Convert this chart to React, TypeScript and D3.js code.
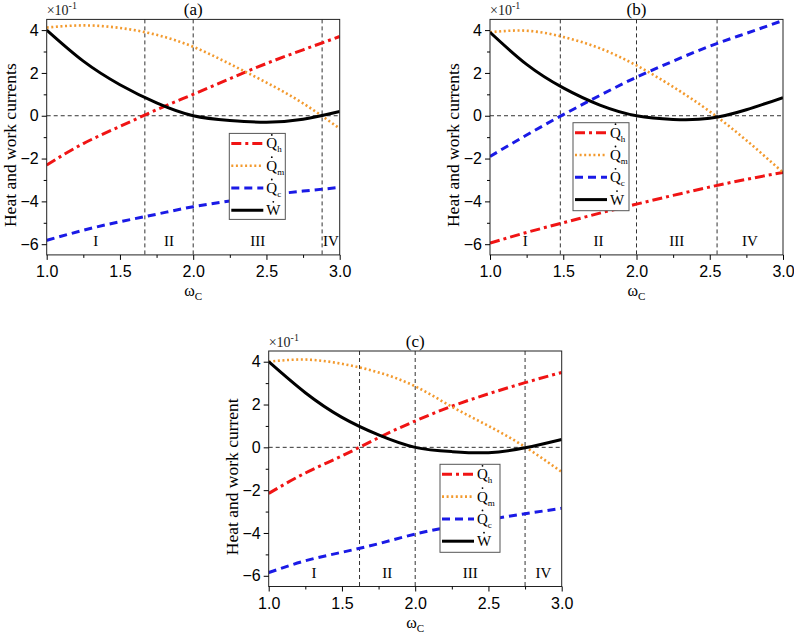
import { useEffect, useRef } from 'react';
import * as d3 from 'd3';

// shared x grid (omega_C)
const omegaC = [1.0, 1.25, 1.5, 1.75, 2.0, 2.25, 2.5, 2.75, 3.0];

// panel (a)
const qhA = [-2.3, -1.3, -0.5, 0.28, 1.0, 1.73, 2.44, 3.08, 3.7];
const qmA = [4.12, 4.22, 4.1, 3.78, 3.22, 2.42, 1.55, 0.58, -0.6];
const qcA = [-5.82, -5.35, -4.95, -4.6, -4.25, -3.98, -3.72, -3.52, -3.35];
const wA = [4.0, 2.55, 1.45, 0.6, 0.0, -0.22, -0.3, -0.16, 0.2];
const boundsA = [1.67, 2.0, 2.88];

// panel (b)
const qhB = [-5.95, -5.45, -5.0, -4.55, -4.13, -3.72, -3.33, -2.97, -2.65];
const qmB = [3.9, 3.97, 3.68, 3.15, 2.35, 1.35, 0.2, -1.15, -2.65];
const qcB = [-1.9, -0.9, 0.05, 0.95, 1.8, 2.55, 3.25, 3.85, 4.45];
const wB = [3.9, 2.4, 1.3, 0.5, 0.0, -0.17, -0.12, 0.28, 0.85];
const boundsB = [1.48, 2.0, 2.55];

// panel (c)
const qhC = [-2.15, -1.2, -0.4, 0.45, 1.23, 1.92, 2.5, 3.02, 3.5];
const qmC = [4.0, 4.1, 3.9, 3.5, 2.85, 1.9, 1.0, 0.02, -1.15];
const qcC = [-5.85, -5.3, -4.9, -4.5, -4.05, -3.7, -3.38, -3.1, -2.85];
const wC = [4.0, 2.55, 1.4, 0.58, 0.0, -0.2, -0.25, -0.02, 0.37];
const boundsC = [1.62, 2.0, 2.75];

const regionLabels = ['I', 'II', 'III', 'IV'];
const xTicks = [1.0, 1.5, 2.0, 2.5, 3.0];
const xMinor = [1.25, 1.75, 2.25, 2.75];
const yTicks = [-6, -4, -2, 0, 2, 4];
const yMinor = [-5, -3, -1, 1, 3];
const seriesSubs = ['h', 'm', 'c'];

const SERIF = '"Liberation Serif", "Times New Roman", serif';
const SANS = '"Liberation Sans", Arial, sans-serif';

const styles = [
  { color: '#f01414', dash: '10,4,3,4', width: 3 },
  { color: '#f39a2e', dash: '2,2.6', width: 2.6 },
  { color: '#1a1ae6', dash: '8,5', width: 3 },
  { color: '#000000', dash: null, width: 3 },
];

interface PanelCfg {
  left: number;
  top: number;
  title: string;
  ylabel: string;
  series: number[][];
  bounds: number[];
  legend: { x: number; y: number; w: number; h: number };
}

const W = 293;
const H = 235.5;

function drawPanel(svg: d3.Selection<SVGSVGElement, unknown, null, undefined>, cfg: PanelCfg, idx: number) {
  const g = svg.append('g').attr('transform', `translate(${cfg.left},${cfg.top})`);

  const x = d3.scaleLinear().domain([1, 3]).range([0, W]);
  const y = d3.scaleLinear().domain([-6.5, 4.5]).range([H, 0]);

  const clipId = `clip-${idx}`;
  g.append('clipPath').attr('id', clipId)
    .append('rect').attr('width', W).attr('height', H);

  // zero line and region dividers
  g.append('line')
    .attr('x1', 0).attr('x2', W).attr('y1', y(0)).attr('y2', y(0))
    .attr('stroke', '#333').attr('stroke-dasharray', '4,3').attr('stroke-width', 1);
  g.selectAll('.div').data(cfg.bounds).enter().append('line')
    .attr('x1', d => x(d)).attr('x2', d => x(d)).attr('y1', 0).attr('y2', H)
    .attr('stroke', '#333').attr('stroke-dasharray', '4,3').attr('stroke-width', 1);

  // region labels
  const edges = [1, ...cfg.bounds, 3];
  g.selectAll('.region').data(regionLabels).enter().append('text')
    .attr('x', (d, i) => x((edges[i] + edges[i + 1]) / 2))
    .attr('y', y(-6.1))
    .attr('text-anchor', 'middle')
    .style('font-family', SERIF).style('font-size', '15px')
    .text(d => d);

  // curves
  const line = d3.line<number>()
    .x((d, i) => x(omegaC[i]))
    .y(d => y(d))
    .curve(d3.curveNatural);

  const curves = g.append('g').attr('clip-path', `url(#${clipId})`);
  cfg.series.forEach((s, i) => {
    const st = styles[i];
    curves.append('path')
      .datum(s)
      .attr('fill', 'none')
      .attr('stroke', st.color)
      .attr('stroke-width', st.width)
      .attr('stroke-dasharray', st.dash)
      .attr('d', line);
  });

  // frame
  g.append('rect').attr('width', W).attr('height', H)
    .attr('fill', 'none').attr('stroke', '#222').attr('stroke-width', 1);

  // axes
  const xAxis = g.append('g').attr('transform', `translate(0,${H})`)
    .call(d3.axisBottom(x).tickValues(xTicks).tickSize(5).tickSizeOuter(0).tickFormat(d3.format('.1f')));
  xAxis.select('.domain').remove();
  xAxis.selectAll('text').style('font-family', SANS).style('font-size', '16px').attr('dy', '0.9em');
  g.append('g').attr('transform', `translate(0,${H})`)
    .call(d3.axisBottom(x).tickValues(xMinor).tickSize(3).tickFormat(() => ''))
    .select('.domain').remove();

  const yAxis = g.append('g')
    .call(d3.axisLeft(y).tickValues(yTicks).tickSize(5).tickSizeOuter(0));
  yAxis.select('.domain').remove();
  yAxis.selectAll('text').style('font-family', SANS).style('font-size', '16px');
  g.append('g')
    .call(d3.axisLeft(y).tickValues(yMinor).tickSize(3).tickFormat(() => ''))
    .select('.domain').remove();

  // scale multiplier
  const mult = g.append('text').attr('x', 0).attr('y', -4)
    .style('font-family', SERIF).style('font-size', '14px').attr('fill', '#222');
  mult.append('tspan').text('×10');
  mult.append('tspan').attr('dy', -6).style('font-size', '10px').text('-1');

  // title
  g.append('text').attr('x', W / 2).attr('y', -4).attr('text-anchor', 'middle')
    .style('font-family', SERIF).style('font-size', '17px').text(cfg.title);

  // x label
  const xl = g.append('text').attr('x', W / 2).attr('y', H + 41).attr('text-anchor', 'middle')
    .style('font-family', SERIF).style('font-size', '16px');
  xl.append('tspan').text('ω');
  xl.append('tspan').attr('dy', 4).style('font-size', '11px').text('C');

  // y label
  g.append('text')
    .attr('transform', `translate(-37,${H / 2 + 8}) rotate(-90)`)
    .attr('text-anchor', 'middle').attr('dominant-baseline', 'central')
    .style('font-family', SERIF).style('font-size', '17.5px')
    .text(cfg.ylabel);

  // legend
  const lg = cfg.legend;
  const leg = g.append('g').attr('transform', `translate(${lg.x},${lg.y})`);
  leg.append('rect').attr('width', lg.w).attr('height', lg.h)
    .attr('fill', '#fff').attr('stroke', '#555').attr('stroke-width', 1);
  styles.forEach((st, i) => {
    const ry = 10 + i * 22.3;
    leg.append('line')
      .attr('x1', 2).attr('x2', 34).attr('y1', ry).attr('y2', ry)
      .attr('stroke', st.color).attr('stroke-width', st.width)
      .attr('stroke-dasharray', st.dash);
    const label = leg.append('text').attr('x', 37).attr('y', ry + 5)
      .style('font-family', SERIF).style('font-size', '15px');
    label.append('tspan').text(i < 3 ? 'Q' : 'W');
    if (i < 3) {
      label.append('tspan').attr('dy', 4).style('font-size', '9px').text(seriesSubs[i]);
    }
    leg.append('circle').attr('cx', i < 3 ? 42.5 : 44).attr('cy', ry - 8.5).attr('r', 0.9).attr('fill', '#000');
  });
}

export default function App() {
  const svgRef = useRef<SVGSVGElement>(null);

  useEffect(() => {
    if (!svgRef.current) return;
    const svg = d3.select(svgRef.current);
    svg.selectAll('*').remove();

    const panels: PanelCfg[] = [
      {
        left: 46.7, top: 19.4, title: '(a)', ylabel: 'Heat and work currents',
        series: [qhA, qmA, qcA, wA], bounds: boundsA,
        legend: { x: 182.6, y: 114, w: 56, h: 86 },
      },
      {
        left: 490, top: 19.4, title: '(b)', ylabel: 'Heat and work currents',
        series: [qhB, qmB, qcB, wB], bounds: boundsB,
        legend: { x: 83, y: 103.3, w: 56, h: 88 },
      },
      {
        left: 268.7, top: 351, title: '(c)', ylabel: 'Heat and work current',
        series: [qhC, qmC, qcC, wC], bounds: boundsC,
        legend: { x: 171.3, y: 113.3, w: 60, h: 88 },
      },
    ];
    panels.forEach((p, i) => drawPanel(svg, p, i));
  }, []);

  return (
    <svg
      ref={svgRef}
      width={794}
      height={633}
      style={{ position: 'absolute', left: 0, top: 0, background: '#fff' }}
    />
  );
}
